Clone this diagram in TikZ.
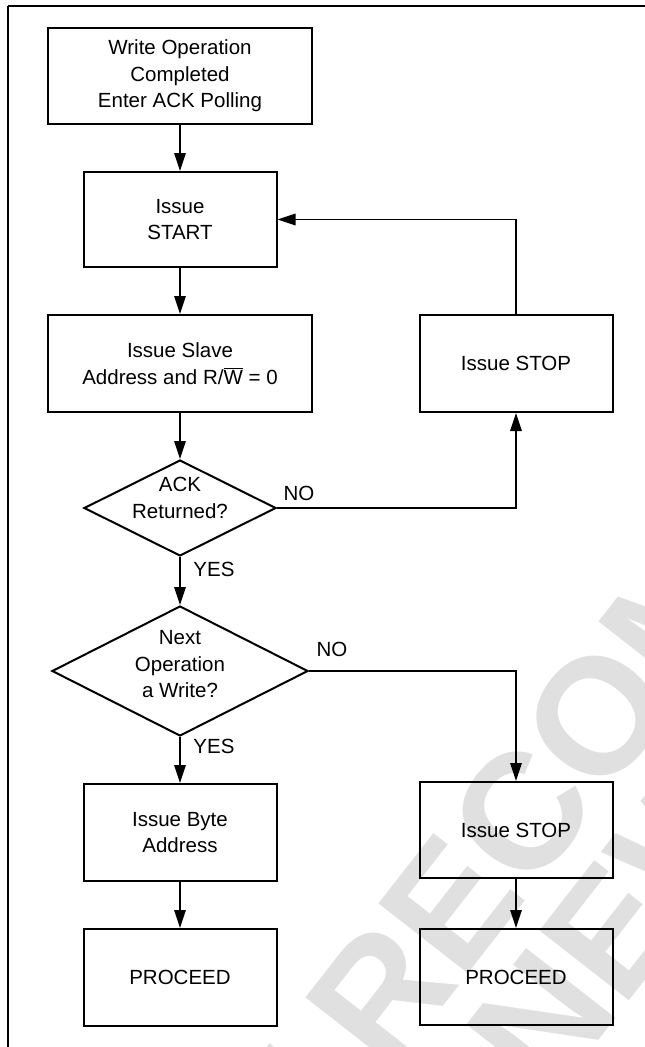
\documentclass[tikz,border=0pt]{standalone}
\usepackage{fontspec}
\setmainfont{Liberation Sans}
\usetikzlibrary{shapes.geometric,arrows.meta}
\begin{document}
\begin{tikzpicture}[x=1pt,y=-1pt,
  every node/.style={font=\fontsize{20.5}{26.5}\selectfont, align=center},
  box/.style={draw, line width=2pt, inner sep=0pt},
  dia/.style={draw, shape=diamond, line width=2pt, inner sep=0pt},
  conn/.style={line width=1.6pt, -{Triangle[length=18pt,width=11.5pt]}},
  lbl/.style={inner sep=0pt}]
\useasboundingbox (0,0) rectangle (645,1047);
% watermark
\begin{scope}
\clip (8,6) rectangle (645,1047);
\node[rotate=52, text=black!12, inner sep=0pt,
      font=\fontsize{165}{143}\selectfont\bfseries] (wm) at (688,717)
  {NOT RECOMMENDED\\FOR NEW DESIGNS};
\end{scope}
% frame
\coordinate (ftl) at (8,6);
\coordinate (ftr) at (645,6);
\coordinate (fbl) at (8,1047);
\draw[line width=1.8pt] (ftr) -- (ftl);
\draw[line width=1.2pt] (ftl) -- (fbl);
% boxes
\node[box, minimum width=264pt, minimum height=96pt] (b1) at (180,76) {Write Operation\\Completed\\Enter ACK Polling};
\node[box, minimum width=193pt, minimum height=95pt] (b2) at (180,219.5) {Issue\\START};
\node[box, minimum width=264pt, minimum height=97pt] (b3) at (180,363.5) {Issue Slave\\Address and R/$\overline{\mbox{W}}$ = 0};
\node[box, minimum width=193pt, minimum height=97pt] (s1) at (516,363.5) {Issue STOP};
\node[dia, minimum width=192pt, minimum height=96pt] (d1) at (180,508) {};
\node[lbl] (d1t) at (180,498) {ACK\\Returned?};
\node[dia, minimum width=256pt, minimum height=130pt] (d2) at (180,671) {};
\node[lbl] (d2t) at (180,664.5) {Next\\Operation\\a Write?};
\node[box, minimum width=193pt, minimum height=97pt] (b4) at (180,832.5) {Issue Byte\\Address};
\node[box, minimum width=193pt, minimum height=96pt] (s2) at (516,830) {Issue STOP};
\node[box, minimum width=193pt, minimum height=97pt] (p1) at (180,977.5) {PROCEED};
\node[box, minimum width=193pt, minimum height=96pt] (p2) at (516,977) {PROCEED};
% labels
\node[lbl] (no1) at (299,493) {NO};
\node[lbl] (yes1) at (214,569) {YES};
\node[lbl] (no2) at (332,649) {NO};
\node[lbl] (yes2) at (214,746) {YES};
% connectors
\draw[conn] (b1.south) -- (b2.north);
\draw[conn] (b2.south) -- (b3.north);
\draw[conn] (b3.south) -- (d1.north);
\draw[conn] (d1.south) -- (d2.north);
\draw[conn] (d2.south) -- (b4.north);
\draw[conn] (b4.south) -- (p1.north);
\draw[conn] (s2.south) -- (p2.north);
\draw[conn, line width=1.3pt] (d1.east) -| (s1.south);
\draw[conn, line width=1.3pt] (s1.north) |- (b2.east);
\draw[conn, line width=1.3pt] (d2.east) -| (s2.north);
\end{tikzpicture}
\end{document}
